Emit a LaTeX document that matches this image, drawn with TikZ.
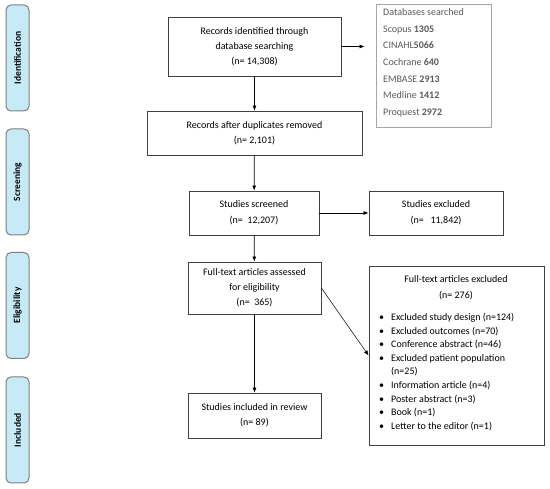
\documentclass[tikz,border=0pt]{standalone}
\usepackage{fontspec}
\setmainfont{Carlito}
\usetikzlibrary{arrows.meta,positioning}
\definecolor{stagefill}{HTML}{C7EAF7}
\definecolor{stageline}{HTML}{7F7F7F}
\definecolor{dbtext}{HTML}{595959}
\newcommand{\Bul}{\makebox[12pt][l]{\textbullet}}

\begin{document}
\begin{tikzpicture}[x=1pt, y=-1pt,
    box/.style={draw=black!75, line width=0.8pt, align=center, inner sep=2pt,
      font=\fontsize{10}{15}\selectfont},
    stage/.style={draw=stageline, fill=stagefill, line width=1pt, rounded corners=5pt,
      rotate=90, minimum width=106pt, minimum height=23pt,
      font=\bfseries\fontsize{9.5}{11}\selectfont},
    dbline/.style={anchor=west, inner sep=0pt, text=dbtext, text height=7pt, text depth=2pt,
      font=\fontsize{10}{12}\selectfont},
    exline/.style={anchor=west, inner sep=0pt, text height=7pt, text depth=2pt,
      font=\fontsize{10}{12}\selectfont},
    flow/.style={-{Latex[length=5pt,width=4pt]}, line width=0.7pt}]
    \useasboundingbox (0,0) rectangle (550,489);

    % stages
    \node[stage] (sId) at (17.5,58) {Identification};
    \node[stage] (sScr) at (17.5,182) {Screening};
    \node[stage] (sEl) at (17.5,305.5) {Eligibility};
    \node[stage] (sInc) at (17.5,430) {Included};

    % flow boxes
    \node[box, minimum width=173pt, minimum height=59pt] (rec) at (254.5,46.5)
      {Records identified through\\database searching\\(n= 14,308)};
    \node[box, minimum width=215pt, minimum height=44pt] (dup) at (254.5,133)
      {Records after duplicates removed\\(n= 2,101)};
    \node[box, minimum width=130pt, minimum height=44pt, font=\fontsize{10}{16}\selectfont] (scr) at (254,213)
      {Studies screened\\(n= \ 12,207)};
    \node[box, minimum width=134pt, minimum height=44pt, font=\fontsize{10}{16}\selectfont] (exc) at (436,213)
      {Studies excluded\\(n= \ \ 11,842)};
    \node[box, minimum width=133pt, minimum height=52pt] (ft) at (254.5,288)
      {Full-text articles assessed\\for eligibility\\(n= \ 365)};
    \node[box, minimum width=133pt, minimum height=45pt] (inc) at (254.5,415.5)
      {Studies included in review\\(n= 89)};

    % databases
    \node[draw=black!35, line width=0.8pt, minimum width=115pt, minimum height=123pt] (dbs) at (433.5,65.5) {};
    \foreach \txt [count=\i from 0] in {Databases searched, Scopus \textbf{1305},
        CINAHL\textbf{5066}, Cochrane \textbf{640}, EMBASE \textbf{2913},
        Medline \textbf{1412}, Proquest \textbf{2972}}
      \node[dbline] (db\i) at (383,13+16.67*\i) {\txt};

    % full-text exclusions
    \node[box, minimum width=175pt, minimum height=179pt] (ftx) at (456.5,355.5) {};
    \node[align=center, inner sep=0pt, font=\fontsize{10}{16}\selectfont] (ftxT) at (456,288)
      {Full-text articles excluded\\(n= 276)};
    \foreach \txt [count=\i from 0] in {\Bul Excluded study design (n=124),
        \Bul Excluded outcomes (n=70), \Bul Conference abstract (n=46),
        \Bul Excluded patient population, \hspace*{12pt}(n=25),
        \Bul Information article (n=4), \Bul Poster abstract (n=3),
        \Bul Book (n=1), \Bul Letter to the editor (n=1)}
      \node[exline] (ex\i) at (379,318+13.6*\i) {\txt};

    % connectors
    \draw[flow] (rec) -- (dup);
    \draw[flow, shorten >=11pt] (rec.east) -- (rec.east -| dbs.west);
    \draw[flow] (dup) -- (scr);
    \draw[flow] (scr) -- (exc);
    \draw[flow] (scr) -- (ft);
    \draw[flow] (ft) -- (inc);
    \draw[flow, line width=0.5pt] (ft.east) -- (ftx.west);
\end{tikzpicture}
\end{document}
